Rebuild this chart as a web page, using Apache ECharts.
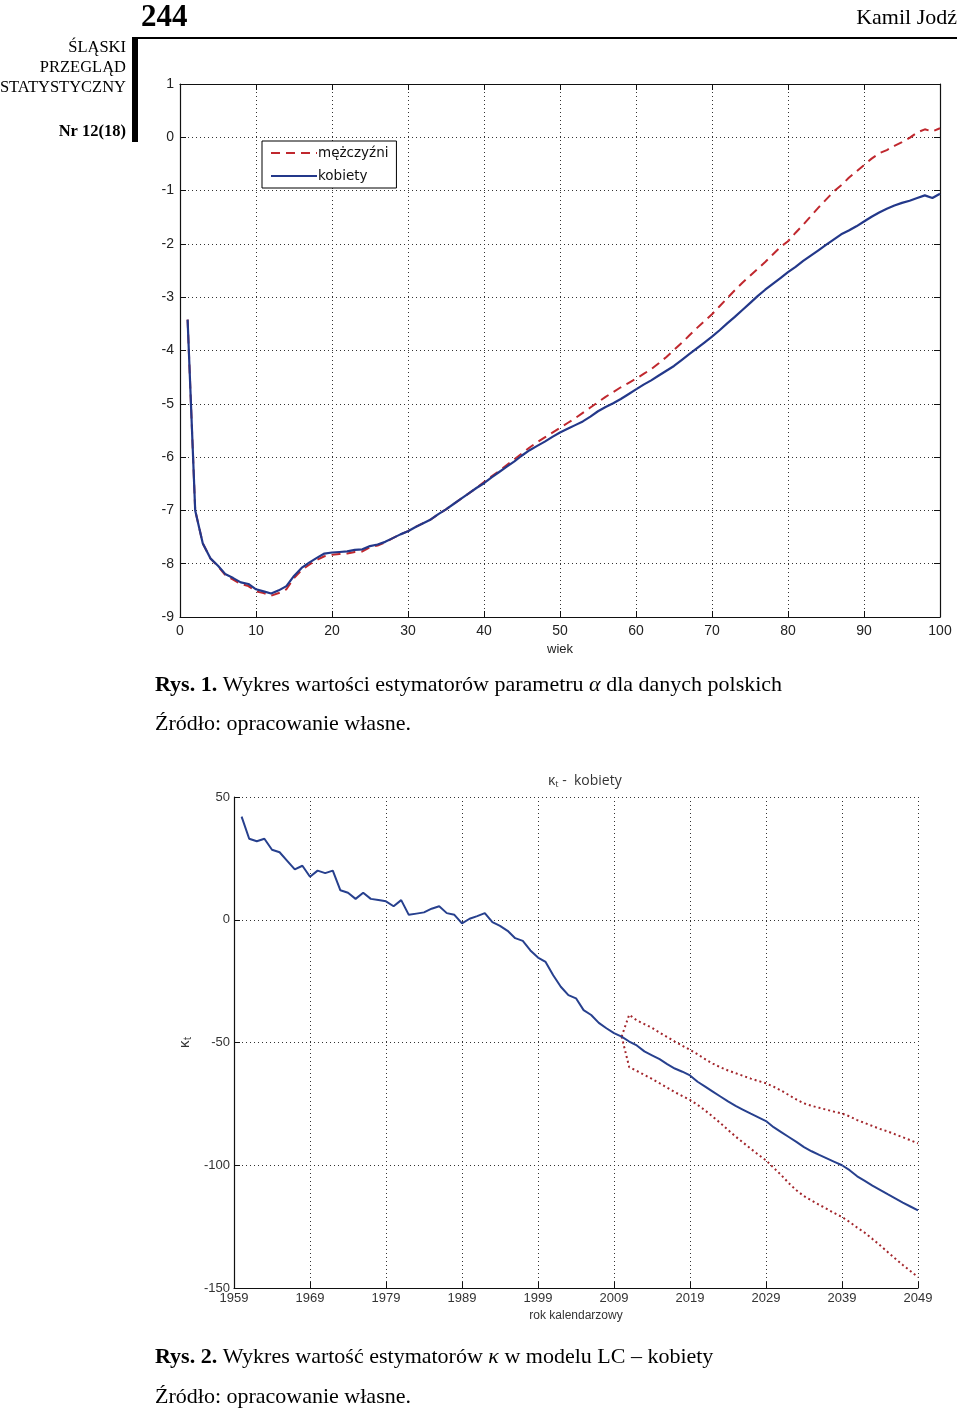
<!DOCTYPE html>
<html><head><meta charset="utf-8">
<script src="https://cdn.jsdelivr.net/npm/echarts@6/dist/echarts.min.js"></script>
<style>html,body{margin:0;padding:0;background:#fff}#c{width:960px;height:1414px}</style>
</head><body><div id="c"></div>
<script>
// ---------- Figure 1: alpha estimators, ages 1..100 ----------
const ageStart = 1;
const menAlpha = [
  -3.42,-7.00,-7.62,-7.90,-8.05,-8.22,-8.30,-8.38,-8.42,-8.52,
  -8.55,-8.60,-8.55,-8.48,-8.27,-8.12,-8.02,-7.93,-7.86,-7.83,
  -7.82,-7.81,-7.78,-7.77,-7.69,-7.66,-7.60,-7.52,-7.45,-7.39,
  -7.31,-7.24,-7.17,-7.07,-6.98,-6.88,-6.78,-6.68,-6.58,-6.47,
  -6.36,-6.26,-6.15,-6.04,-5.93,-5.82,-5.72,-5.63,-5.54,-5.45,
  -5.36,-5.27,-5.17,-5.07,-4.97,-4.87,-4.78,-4.69,-4.61,-4.53,
  -4.44,-4.35,-4.24,-4.12,-3.99,-3.86,-3.72,-3.58,-3.45,-3.32,
  -3.17,-3.02,-2.87,-2.73,-2.60,-2.47,-2.34,-2.20,-2.06,-1.95,
  -1.79,-1.64,-1.48,-1.32,-1.17,-1.02,-0.90,-0.76,-0.64,-0.52,
  -0.40,-0.30,-0.24,-0.16,-0.09,-0.01,0.09,0.15,0.11,0.17
];
const womenAlpha = [
  -3.42,-7.00,-7.62,-7.90,-8.04,-8.20,-8.27,-8.35,-8.38,-8.48,
  -8.52,-8.56,-8.50,-8.42,-8.23,-8.08,-7.98,-7.89,-7.81,-7.79,
  -7.78,-7.77,-7.74,-7.73,-7.67,-7.64,-7.59,-7.52,-7.45,-7.39,
  -7.31,-7.24,-7.17,-7.07,-6.98,-6.88,-6.78,-6.68,-6.58,-6.49,
  -6.38,-6.28,-6.18,-6.08,-5.97,-5.87,-5.79,-5.71,-5.62,-5.54,
  -5.47,-5.40,-5.33,-5.24,-5.14,-5.06,-4.99,-4.91,-4.82,-4.73,
  -4.64,-4.56,-4.47,-4.38,-4.29,-4.18,-4.07,-3.96,-3.85,-3.74,
  -3.62,-3.49,-3.37,-3.24,-3.11,-2.98,-2.86,-2.75,-2.64,-2.53,
  -2.43,-2.32,-2.22,-2.12,-2.02,-1.92,-1.82,-1.75,-1.67,-1.58,
  -1.49,-1.41,-1.34,-1.28,-1.23,-1.19,-1.14,-1.09,-1.14,-1.06
];
const legendNames = ['mężczyźni', 'kobiety'];

// ---------- Figure 2: kappa_t, women ----------
const yearFirst = 1959, yearLast = 2049;
const kappaStart = 1960;
const kappa = [
  42,33,32,33,28.5,27.5,24,20.5,22,17.5,
  20,19,20,12,11,8.5,11,8.5,8,7.5,
  5.5,8,2,2.5,3,4.5,5.5,2.7,2,-1.5,
  0.4,1.5,2.7,-1,-2.5,-4.5,-7.5,-8.6,-12.5,-15.4,
  -17.2,-22.6,-27.3,-30.7,-32,-36.8,-38.8,-42,-44.2,-46.2,
  -47.6,-49.6,-51.2,-53.6,-55.2,-56.8,-58.8,-60.6,-61.9,-63.4,
  -66,-68,-70,-72,-74,-75.8,-77.4,-79,-80.5,-82,
  -84.5,-86.5,-88.5,-90.5,-92.6,-94.3,-95.8,-97.2,-98.6,-100,
  -102,-104.5,-106.4,-108.3,-110,-111.8,-113.5,-115.2,-116.8,-118.4
];
const ciStart = 2010;
const kappaUpper = [
  -47.6,-38.7,-41,-42.5,-44,-46,-47.8,-49.6,-51.3,-53,
  -54.8,-56.8,-58.6,-60.1,-61.4,-62.5,-63.6,-64.7,-65.7,-66.6,
  -68,-69.6,-71.4,-73.2,-74.8,-75.8,-76.6,-77.4,-78.2,-78.9,
  -80.1,-81.6,-82.8,-84,-85.2,-86.2,-87.4,-88.6,-89.8,-91.1
];
const kappaLower = [
  -47.6,-60,-61.6,-63.2,-64.8,-66.6,-68.4,-70.2,-71.8,-73.4,
  -75.4,-77.7,-80.2,-82.8,-85.6,-88.3,-90.8,-93.3,-95.7,-98,
  -101,-104,-107.3,-110.2,-112.6,-114.4,-116.1,-117.8,-119.5,-121.1,
  -123.1,-125.4,-127.5,-130,-132.6,-135.3,-138,-140.6,-143.1,-145.6
];

// ---------- build ----------
const years = [];
for (let y = yearFirst; y <= yearLast; y++) years.push(String(y));
const pairs = (start, arr, asStr) => arr.map((v, i) => [asStr ? String(start + i) : start + i, v]);

const SERIF = 'Liberation Serif';
const SANS = 'Liberation Sans';
const dotted = { type: [1, 3], color: '#333', width: 1 };

const chart = echarts.init(document.getElementById('c'), null, { renderer: 'canvas' });
const capRich = {
  b: { fontFamily: SERIF, fontSize: 22, fontWeight: 'bold', fill: '#000' },
  n: { fontFamily: SERIF, fontSize: 22, fill: '#000' },
  i: { fontFamily: SERIF, fontSize: 22, fontStyle: 'italic', fill: '#000' }
};
const option = {
  animation: false,
  backgroundColor: '#fff',
  title: {
    text: '{k|κ}{s|t}{k| -  kobiety}',
    left: 543, top: 768,
    textStyle: {
      fontWeight: 'normal',
      rich: {
        k: { fontFamily: 'Open Sans', fontSize: 14, fontWeight: 'normal', color: '#333' },
        s: { fontFamily: 'Open Sans', fontSize: 9, fontWeight: 'normal', color: '#333', verticalAlign: 'bottom', padding: [7, 0, 0, 0] }
      }
    }
  },
  legend: {
    data: legendNames,
    orient: 'vertical',
    left: 262, top: 141,
    backgroundColor: '#fff',
    borderColor: '#000', borderWidth: 1, borderRadius: 0,
    padding: [5, 8, 5, 8],
    itemWidth: 46, itemHeight: 12, itemGap: 9,
    itemStyle: { opacity: 0 },
    textStyle: { fontFamily: 'DejaVu Sans', fontSize: 13.5, color: '#111', padding: [0, 0, 0, -4] }
  },
  grid: [
    { left: 180, top: 84, width: 760, height: 533 },
    { left: 234, top: 797, width: 684, height: 491 }
  ],
  xAxis: [
    {
      gridIndex: 0, type: 'value', min: 0, max: 100, interval: 10, position: 'bottom',
      axisLine: { show: true, onZero: false, lineStyle: { color: '#111', width: 1.2 } },
      axisTick: { show: true, inside: true, length: 6, lineStyle: { color: '#111' } },
      axisLabel: { margin: 7, color: '#222', fontSize: 14, fontFamily: SANS },
      splitLine: { show: true, lineStyle: dotted },
      name: 'wiek', nameLocation: 'middle', nameGap: 26,
      nameTextStyle: { color: '#222', fontSize: 13, fontFamily: SANS }
    },
    {
      gridIndex: 0, type: 'value', min: 0, max: 100, interval: 10, position: 'top',
      axisLine: { show: true, onZero: false, lineStyle: { color: '#111', width: 1.2 } },
      axisTick: { show: true, inside: true, length: 6, lineStyle: { color: '#111' } },
      axisLabel: { show: false }, splitLine: { show: false }
    },
    {
      gridIndex: 1, type: 'category', data: years, boundaryGap: false, position: 'bottom',
      axisLine: { show: true, onZero: false, lineStyle: { color: '#111', width: 1.2 } },
      axisTick: { show: true, inside: true, length: 6, interval: 9, lineStyle: { color: '#111' } },
      axisLabel: { interval: 9, margin: 4, color: '#333', fontSize: 13, fontFamily: SANS },
      splitLine: { show: true, interval: 9, lineStyle: dotted },
      name: 'rok kalendarzowy', nameLocation: 'middle', nameGap: 22,
      nameTextStyle: { color: '#333', fontSize: 12, fontFamily: SANS }
    }
  ],
  yAxis: [
    {
      gridIndex: 0, type: 'value', min: -9, max: 1, interval: 1, position: 'left',
      axisLine: { show: true, onZero: false, lineStyle: { color: '#111', width: 1.2 } },
      axisTick: { show: true, inside: true, length: 6, lineStyle: { color: '#111' } },
      axisLabel: { margin: 6, color: '#222', fontSize: 14, fontFamily: SANS },
      splitLine: { show: true, lineStyle: dotted }
    },
    {
      gridIndex: 0, type: 'value', min: -9, max: 1, interval: 1, position: 'right',
      axisLine: { show: true, onZero: false, lineStyle: { color: '#111', width: 1.2 } },
      axisTick: { show: true, inside: true, length: 6, lineStyle: { color: '#111' } },
      axisLabel: { show: false }, splitLine: { show: false }
    },
    {
      gridIndex: 1, type: 'value', min: -150, max: 50, interval: 50, position: 'left',
      axisLine: { show: true, onZero: false, lineStyle: { color: '#111', width: 1.2 } },
      axisTick: { show: true, inside: true, length: 6, lineStyle: { color: '#111' } },
      axisLabel: { margin: 4, color: '#333', fontSize: 13, fontFamily: SANS },
      splitLine: { show: true, lineStyle: dotted },
      name: '{k|κ}{s|t}', nameLocation: 'middle', nameGap: 38, nameRotate: 90,
      nameTextStyle: {
        rich: {
          k: { fontFamily: 'Open Sans', fontSize: 15, color: '#333' },
          s: { fontFamily: 'Open Sans', fontSize: 10, color: '#333', verticalAlign: 'bottom', padding: [6, 0, 0, 0] }
        }
      }
    }
  ],
  series: [
    {
      name: 'mężczyźni', type: 'line', xAxisIndex: 0, yAxisIndex: 0, symbol: 'none',
      data: pairs(ageStart, menAlpha),
      color: '#c0282e',
      lineStyle: { color: '#c0282e', width: 2, type: [9, 6] }
    },
    {
      name: 'kobiety', type: 'line', xAxisIndex: 0, yAxisIndex: 0, symbol: 'none',
      data: pairs(ageStart, womenAlpha),
      color: '#23388a',
      lineStyle: { color: '#23388a', width: 2.2 }
    },
    {
      name: 'górna granica', type: 'line', xAxisIndex: 2, yAxisIndex: 2, symbol: 'none',
      data: pairs(ciStart, kappaUpper, true),
      lineStyle: { color: '#a3262c', width: 2, type: [2, 3] }
    },
    {
      name: 'dolna granica', type: 'line', xAxisIndex: 2, yAxisIndex: 2, symbol: 'none',
      data: pairs(ciStart, kappaLower, true),
      lineStyle: { color: '#a3262c', width: 2, type: [2, 3] }
    },
    {
      name: 'kappa', type: 'line', xAxisIndex: 2, yAxisIndex: 2, symbol: 'none',
      data: pairs(kappaStart, kappa, true),
      lineStyle: { color: '#27408e', width: 2 }
    }
  ],
  graphic: [
    { type: 'text', x: 141, y: 18, style: { text: '244', fontFamily: SERIF, fontSize: 31, fontWeight: 'bold', fill: '#000', verticalAlign: 'middle' } },
    { type: 'text', x: 957, y: 18, style: { text: 'Kamil Jodź', fontFamily: SERIF, fontSize: 22, fill: '#000', align: 'right', verticalAlign: 'middle' } },
    { type: 'rect', shape: { x: 135, y: 37, width: 822, height: 2 }, style: { fill: '#000' } },
    { type: 'rect', shape: { x: 132, y: 37, width: 6, height: 105 }, style: { fill: '#000' } },
    { type: 'text', x: 126, y: 48, style: { text: 'ŚLĄSKI', fontFamily: SERIF, fontSize: 16.5, fill: '#000', align: 'right', verticalAlign: 'middle' } },
    { type: 'text', x: 126, y: 68, style: { text: 'PRZEGLĄD', fontFamily: SERIF, fontSize: 16.5, fill: '#000', align: 'right', verticalAlign: 'middle' } },
    { type: 'text', x: 126, y: 88, style: { text: 'STATYSTYCZNY', fontFamily: SERIF, fontSize: 16.5, fill: '#000', align: 'right', verticalAlign: 'middle' } },
    { type: 'text', x: 126, y: 132, style: { text: 'Nr 12(18)', fontFamily: SERIF, fontSize: 16.5, fontWeight: 'bold', fill: '#000', align: 'right', verticalAlign: 'middle' } },
    { type: 'text', x: 155, y: 685, style: {
        text: '{b|Rys. 1.}{n| Wykres wartości estymatorów parametru }{i|α}{n| dla danych polskich}',
        verticalAlign: 'middle', rich: capRich } },
    { type: 'text', x: 155, y: 724, style: { text: 'Źródło: opracowanie własne.', fontFamily: SERIF, fontSize: 22, fill: '#000', verticalAlign: 'middle' } },
    { type: 'text', x: 155, y: 1357, style: {
        text: '{b|Rys. 2.}{n| Wykres wartość estymatorów }{i|κ}{n| w modelu LC – kobiety}',
        verticalAlign: 'middle', rich: capRich } },
    { type: 'text', x: 155, y: 1397, style: { text: 'Źródło: opracowanie własne.', fontFamily: SERIF, fontSize: 22, fill: '#000', verticalAlign: 'middle' } }
  ]
};
chart.setOption(option);
</script>
</body></html>
